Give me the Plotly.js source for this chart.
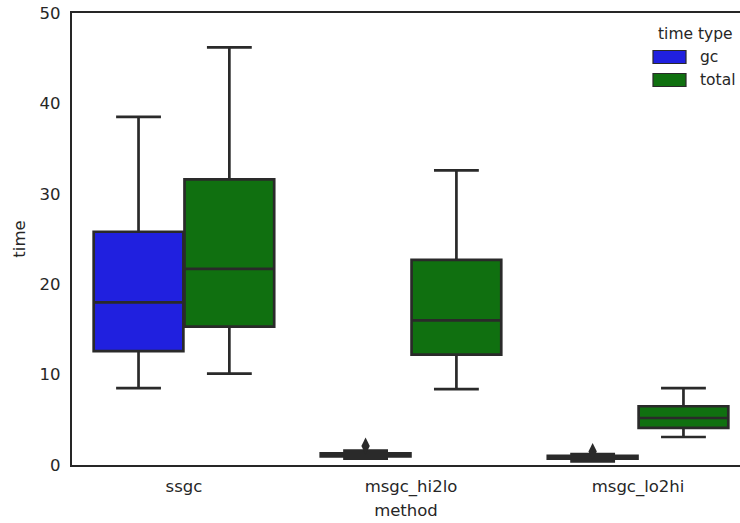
<!DOCTYPE html>
<html>
<head>
<meta charset="utf-8">
<script src="https://cdn.plot.ly/plotly-3.0.1.min.js"></script>
<style>html,body{margin:0;padding:0;background:#fff;}#chart{width:740px;height:523px;}</style>
</head>
<body>
<div id="chart"></div>
<script>
const methods = ['ssgc', 'msgc_hi2lo', 'msgc_lo2hi'];
const hueNames = ['gc', 'total'];

const gcLower  = [8.5, 0.7, 0.4];
const gcQ1     = [12.6, 0.95, 0.7];
const gcMedian = [18.0, 1.1, 0.85];
const gcQ3     = [25.8, 1.3, 1.0];
const gcUpper  = [38.5, 1.6, 1.2];

const totalLower  = [10.1, 8.4, 3.1];
const totalQ1     = [15.3, 12.2, 4.1];
const totalMedian = [21.7, 16.0, 5.2];
const totalQ3     = [31.6, 22.7, 6.5];
const totalUpper  = [46.2, 32.6, 8.5];

const gcOutlierMethod = ['msgc_hi2lo', 'msgc_lo2hi'];
const gcOutlierValue  = [2.1, 1.5];

const colors = ['#2020df', '#107010'];
const edge = '#2a2a2a';
const off = 0.2;
const idx = methods.map((m, i) => i);

function boxTrace(name, sign, lo, q1, med, q3, hi, color) {
  return {
    type: 'box', name: name, showlegend: false,
    x: idx.map(i => i + sign * off),
    lowerfence: lo, q1: q1, median: med, q3: q3, upperfence: hi,
    width: 0.395, whiskerwidth: 0.5,
    fillcolor: color,
    line: {color: edge, width: 2.7},
    hoverinfo: 'skip'
  };
}

const traces = [
  boxTrace('gc', -1, gcLower, gcQ1, gcMedian, gcQ3, gcUpper, colors[0]),
  boxTrace('total', 1, totalLower, totalQ1, totalMedian, totalQ3, totalUpper, colors[1]),
  {
    type: 'scatter', mode: 'markers', showlegend: false,
    x: gcOutlierMethod.map(m => methods.indexOf(m) - off),
    y: gcOutlierValue,
    marker: {symbol: 'diamond-tall', size: 12, color: edge}
  }
];

const fam = 'DejaVu Sans, sans-serif';
const font = {family: fam, size: 16.5, color: '#262626'};
const legFont = {family: fam, size: 15.5, color: '#262626'};

// legend drawn in paper coordinates
const shapes = [];
const annotations = [];
const lgX0 = (653 - 72) / 668, lgX1 = (686 - 72) / 668;
const rowsY = [57, 80];
hueNames.forEach((h, i) => {
  const yc = 1 - (rowsY[i] - 13) / 452;
  const hh = 6.5 / 452;
  shapes.push({type: 'rect', xref: 'paper', yref: 'paper', x0: lgX0, x1: lgX1, y0: yc - hh, y1: yc + hh,
    fillcolor: colors[i], line: {color: edge, width: 1.2}});
  annotations.push({xref: 'paper', yref: 'paper', x: (698 - 72) / 668, y: yc, text: h,
    showarrow: false, xanchor: 'left', yanchor: 'middle', font: legFont});
});
annotations.push({xref: 'paper', yref: 'paper', x: (695 - 72) / 668, y: 1 - (34 - 13) / 452, text: 'time type',
  showarrow: false, xanchor: 'center', yanchor: 'middle', font: legFont});

const layout = {
  width: 740, height: 523,
  margin: {l: 72, r: 0, t: 13, b: 58},
  paper_bgcolor: '#fff', plot_bgcolor: '#fff',
  font: font,
  showlegend: false,
  boxmode: 'overlay',
  xaxis: {
    range: [-0.493, 2.449],
    tickvals: idx, ticktext: methods,
    showgrid: false, zeroline: false,
    showline: true, linecolor: '#262626', linewidth: 2.2, mirror: true,
    ticks: 'outside', ticklen: 5, tickcolor: 'rgba(0,0,0,0)',
    tickfont: font,
    title: {text: 'method', font: font, standoff: 9}
  },
  yaxis: {
    range: [0, 50],
    tickvals: [0, 10, 20, 30, 40, 50],
    showgrid: false, zeroline: false,
    showline: true, linecolor: '#262626', linewidth: 2.2,
    ticks: 'outside', ticklen: 6, tickcolor: 'rgba(0,0,0,0)',
    tickfont: font,
    title: {text: 'time', font: font, standoff: 10}
  },
  shapes: shapes,
  annotations: annotations
};

Plotly.newPlot('chart', traces, layout, {displayModeBar: false, staticPlot: true});
</script>
</body>
</html>
